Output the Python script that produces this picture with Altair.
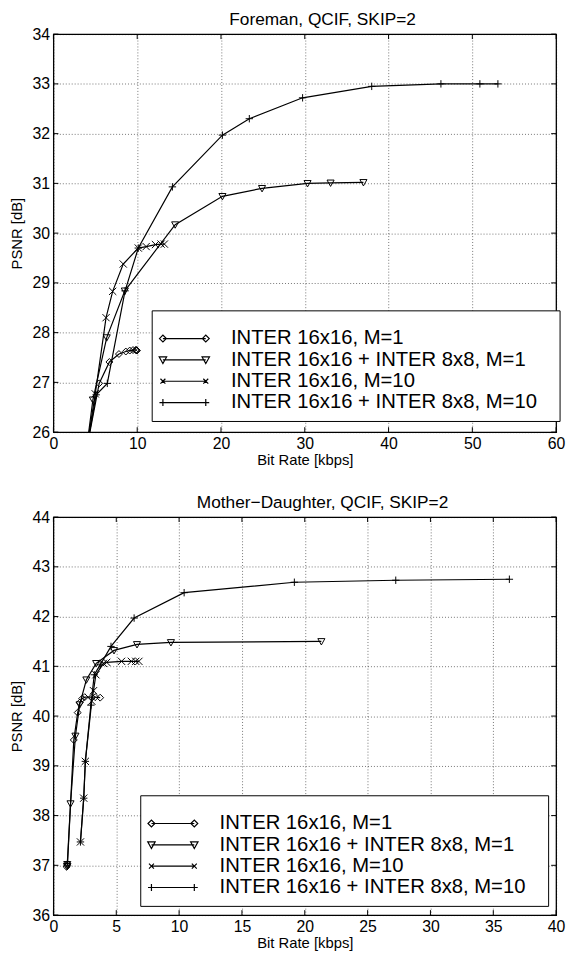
import altair as alt
import pandas as pd

FONT = "Liberation Sans"

series_names = [
    "INTER 16x16, M=1",
    "INTER 16x16 + INTER 8x8, M=1",
    "INTER 16x16, M=10",
    "INTER 16x16 + INTER 8x8, M=10",
]

# ---------------- Foreman, QCIF, SKIP=2 ----------------
fm_title = "Foreman, QCIF, SKIP=2"
fm_xticks = [0, 10, 20, 30, 40, 50, 60]
fm_yticks = [26, 27, 28, 29, 30, 31, 32, 33, 34]
fm_s1_x = [3.9, 5.46, 6.68, 7.82, 8.64, 9.11, 9.5, 9.82, 9.9, 9.98]
fm_s1_y = [25.6, 26.98, 27.41, 27.57, 27.62, 27.64, 27.65, 27.65, 27.65, 27.64]
fm_s2_x = [3.9, 4.71, 6.36, 8.52, 14.53, 20.17, 24.9, 30.33, 33.08, 37.0]
fm_s2_y = [25.6, 26.65, 27.90, 28.84, 30.17, 30.74, 30.90, 31.0, 31.01, 31.02]
fm_s3_x = [3.9, 4.99, 6.28, 7.07, 8.33, 10.13, 11.07, 12.18, 12.85, 13.24]
fm_s3_y = [25.6, 26.77, 28.30, 28.83, 29.38, 29.70, 29.73, 29.77, 29.78, 29.78]
fm_s4_x = [3.9, 5.1, 6.43, 8.55, 10.13, 14.2, 20.17, 23.38, 29.74, 37.99, 46.25, 50.9, 53.05]
fm_s4_y = [25.6, 26.75, 26.98, 28.84, 29.70, 30.93, 31.97, 32.30, 32.72, 32.95, 33.0, 33.0, 33.0]

# ---------------- Mother-Daughter, QCIF, SKIP=2 ----------------
md_title = "Mother\u2212Daughter, QCIF, SKIP=2"
md_xticks = [0, 5, 10, 15, 20, 25, 30, 35, 40]
md_yticks = [36, 37, 38, 39, 40, 41, 42, 43, 44]
md_s1_x = [1.05, 1.1, 1.12, 1.62, 1.93, 2.09, 2.28, 2.49, 3.06, 3.32, 3.72]
md_s1_y = [36.97, 37.0, 37.03, 39.52, 40.07, 40.27, 40.35, 40.38, 40.38, 40.38, 40.37]
md_s2_x = [1.08, 1.1, 1.36, 1.75, 2.09, 2.62, 3.4, 4.82, 6.65, 9.35, 21.32]
md_s2_y = [36.98, 37.02, 38.24, 39.6, 40.23, 40.73, 41.06, 41.32, 41.44, 41.48, 41.5]
md_s3_x = [2.15, 2.41, 2.54, 3.05, 3.19, 3.38, 3.98, 4.24, 5.42, 6.2, 6.55, 6.8]
md_s3_y = [37.47, 38.35, 39.09, 40.3, 40.51, 40.83, 41.06, 41.08, 41.1, 41.1, 41.1, 41.1]
md_s4_x = [2.15, 2.41, 2.54, 2.98, 3.25, 3.72, 4.58, 6.42, 10.4, 19.17, 27.24, 36.28]
md_s4_y = [37.47, 38.35, 39.09, 40.22, 40.83, 41.03, 41.40, 41.97, 42.48, 42.69, 42.73, 42.75]

W, H = 509, 403
TICK = 5

# marker glyphs (unit square paths)
marker_paths = [
    "M-1,0L0,-1L1,0L0,1Z",
    "M-1,-0.8L1,-0.8L0,1Z",
    "M-1,-1L1,1M-1,1L1,-1",
    "M-1,0L1,0M0,-1L0,1",
]
marker_sizes = [49, 56, 25, 49]
marker_half = [3.5, 3.75, 2.5, 3.5]


def glyph(kind, cx, h):
    if kind == 0:
        return f"M{cx-h:.2f},0L{cx:.2f},{-h:.2f}L{cx+h:.2f},0L{cx:.2f},{h:.2f}Z"
    if kind == 1:
        return f"M{cx-h:.2f},{-0.8*h:.2f}L{cx+h:.2f},{-0.8*h:.2f}L{cx:.2f},{h:.2f}Z"
    if kind == 2:
        return f"M{cx-h:.2f},{-h:.2f}L{cx+h:.2f},{h:.2f}M{cx-h:.2f},{h:.2f}L{cx+h:.2f},{-h:.2f}"
    return f"M{cx-h:.2f},0L{cx+h:.2f},0M{cx:.2f},{-h:.2f}L{cx:.2f},{h:.2f}"


def legend_paths():
    half_len = 21.7
    left_ext, right_ext = 25.2, 369
    out = []
    for k in range(4):
        p = f"M{-left_ext},0M{right_ext},0"
        p += f"M{-half_len},0L{half_len},0"
        p += glyph(k, -half_len, marker_half[k]) + glyph(k, half_len, marker_half[k])
        out.append(p)
    return out


def make_df(xs_list, ys_list):
    rows = []
    for name, xs, ys in zip(series_names, xs_list, ys_list):
        for i, (x, y) in enumerate(zip(xs, ys)):
            rows.append({"series": name, "rate": x, "psnr": y, "idx": i})
    return pd.DataFrame(rows)


def panel(title, xs_list, ys_list, xticks, yticks, leg_x, leg_y):
    df = make_df(xs_list, ys_list)
    xscale = alt.Scale(domain=[xticks[0], xticks[-1]], nice=False, zero=False)
    yscale = alt.Scale(domain=[yticks[0], yticks[-1]], nice=False, zero=False)
    xaxis = alt.Axis(values=xticks, title="Bit Rate [kbps]")
    yaxis = alt.Axis(values=yticks, title="PSNR [dB]")
    X = alt.X("rate:Q", scale=xscale, axis=xaxis)
    Y = alt.Y("psnr:Q", scale=yscale, axis=yaxis)

    base = alt.Chart(df)
    lines = base.mark_line(color="black", strokeWidth=1.2, clip=True).encode(
        x=X, y=Y, detail="series:N", order="idx:Q"
    )
    points = base.mark_point(filled=False, color="black", strokeWidth=1, opacity=1, clip=True).encode(
        x=X,
        y=Y,
        shape=alt.Shape("series:N", scale=alt.Scale(domain=series_names, range=marker_paths), legend=None),
        size=alt.Size("series:N", scale=alt.Scale(domain=series_names, range=marker_sizes), legend=None),
    )
    leg = base.mark_point(filled=False, color="black", opacity=1).encode(
        x=X,
        y=Y,
        shape=alt.Shape(
            "series:N",
            scale=alt.Scale(domain=series_names, range=legend_paths()),
            legend=alt.Legend(
                title=" ",
                titleFontSize=1,
                titlePadding=9.7,
                orient="none",
                legendX=leg_x,
                legendY=leg_y,
                padding=7.6,
                strokeColor="black",
                fillColor="white",
                labelFont=FONT,
                labelFontSize=20.5,
                labelColor="black",
                labelLimit=600,
                symbolSize=4,
                symbolStrokeWidth=1.2,
                symbolStrokeColor="black",
                symbolFillColor="transparent",
                symbolOffset=15.2,
                labelOffset=37,
                rowPadding=0.6,
            ),
        ),
    ).transform_filter("false")

    xt = pd.DataFrame({"rate": xticks})
    yt = pd.DataFrame({"psnr": yticks})
    xt_bot = alt.Chart(xt).mark_rule(color="black", strokeWidth=1).encode(
        x=X, y=alt.value(H), y2=alt.value(H - TICK))
    xt_top = alt.Chart(xt).mark_rule(color="black", strokeWidth=1).encode(
        x=X, y=alt.value(0), y2=alt.value(TICK))
    yt_left = alt.Chart(yt).mark_rule(color="black", strokeWidth=1).encode(
        y=Y, x=alt.value(0), x2=alt.value(TICK))
    yt_right = alt.Chart(yt).mark_rule(color="black", strokeWidth=1).encode(
        y=Y, x=alt.value(W), x2=alt.value(W - TICK))

    ch = alt.layer(lines, points, leg, xt_bot, xt_top, yt_left, yt_right).resolve_scale(
        shape="independent"
    ).properties(
        width=W,
        height=H,
        title=alt.TitleParams(text=title, font=FONT, fontSize=17.5, fontWeight="normal",
                              color="black", anchor="middle", dx=18, offset=-16.5,
                              baseline="alphabetic"),
    )
    return ch


top = panel(fm_title, [fm_s1_x, fm_s2_x, fm_s3_x, fm_s4_x], [fm_s1_y, fm_s2_y, fm_s3_y, fm_s4_y],
            fm_xticks, fm_yticks, 99.5, 279.7)
bottom = panel(md_title, [md_s1_x, md_s2_x, md_s3_x, md_s4_x], [md_s1_y, md_s2_y, md_s3_y, md_s4_y],
               md_xticks, md_yticks, 87.9, 281.7)

chart = alt.vconcat(top, bottom, spacing=25).properties(
    padding={"left": 0, "top": -3.5, "right": 0, "bottom": 0},
    background="white",
).configure_axis(
    labelFont=FONT, labelFontSize=16, labelColor="black", labelPadding=4, labelFlush=False,
    titleFont=FONT, titleFontSize=15, titleFontWeight="normal", titleColor="black",
    domain=False, ticks=False, grid=True, gridColor="black", gridDash=[1, 2], gridOpacity=0.55,
).configure_axisX(titlePadding=1).configure_axisY(titlePadding=7.9).configure_view(
    stroke="black", strokeWidth=1.3
)

chart.save("out.html", embed_options={"renderer": "svg", "actions": False})
